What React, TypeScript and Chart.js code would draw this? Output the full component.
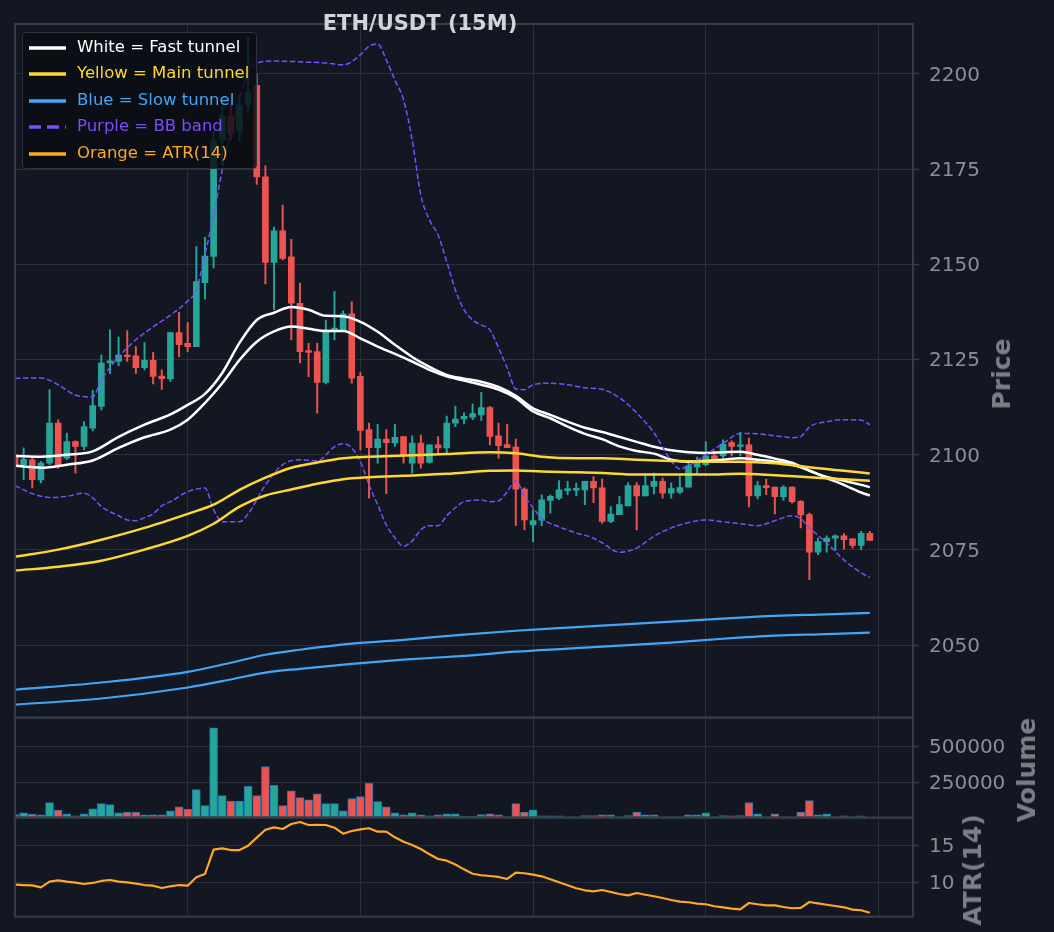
import React, { useEffect, useRef } from "react";
import { Chart, registerables } from "chart.js";

Chart.register(...registerables);

// ---- candles (15M) ----
const opens = [
  2100.0, 2097.4, 2098.7, 2093.4, 2097.8, 2108.3, 2099.1, 2103.5, 2102.2, 2107.0,
  2112.7, 2124.1, 2124.5, 2126.2, 2126.0, 2122.9, 2124.8, 2120.7, 2119.9, 2132.1,
  2129.3, 2128.4, 2145.2, 2152.1, 2182.7, 2188.8, 2184.9, 2191.9, 2197.0, 2173.0,
  2150.5, 2158.8, 2152.0, 2139.8, 2127.4, 2127.1, 2119.0, 2132.4, 2132.8, 2137.0,
  2120.6, 2106.6, 2101.9, 2104.1, 2103.1, 2104.8, 2097.8, 2103.1, 2098.0, 2102.6,
  2101.8, 2108.3, 2109.4, 2109.9, 2110.5, 2112.4, 2105.0, 2102.7, 2102.0, 2091.0,
  2081.6, 2082.8, 2088.0, 2088.6, 2090.6, 2090.7, 2090.8, 2093.0, 2091.3, 2082.5,
  2084.3, 2086.6, 2091.9, 2089.2, 2091.7, 2093.0, 2089.9, 2090.2, 2091.5, 2096.8,
  2097.4, 2099.7, 2099.7, 2103.2, 2102.2, 2102.6, 2089.2, 2091.9, 2091.5, 2089.0,
  2091.5, 2087.8, 2084.3, 2074.4, 2077.2, 2078.1, 2078.7, 2077.9, 2076.2, 2079.4,
];
const highs = [
  2101.0, 2101.8, 2099.3, 2098.3, 2117.1, 2109.2, 2105.7, 2103.7, 2108.7, 2116.9,
  2126.2, 2132.8, 2130.9, 2132.6, 2128.4, 2129.5, 2126.9, 2122.3, 2132.1, 2137.4,
  2134.7, 2154.7, 2157.1, 2185.0, 2193.0, 2192.4, 2194.5, 2209.8, 2200.0, 2175.9,
  2159.8, 2165.6, 2156.6, 2145.1, 2129.3, 2129.3, 2135.4, 2142.9, 2137.8, 2140.2,
  2121.6, 2108.3, 2108.0, 2106.6, 2108.0, 2104.8, 2105.0, 2105.2, 2102.6, 2104.8,
  2110.2, 2112.7, 2111.0, 2113.4, 2116.4, 2112.7, 2108.3, 2108.0, 2104.1, 2091.3,
  2085.6, 2089.5, 2089.5, 2093.2, 2093.0, 2092.6, 2093.0, 2094.3, 2093.6, 2086.4,
  2089.1, 2092.7, 2092.7, 2095.0, 2095.2, 2093.9, 2092.6, 2094.3, 2098.0, 2099.4,
  2103.5, 2100.8, 2103.9, 2103.7, 2105.9, 2104.4, 2093.0, 2093.6, 2091.5, 2091.9,
  2091.6, 2088.0, 2084.7, 2078.1, 2078.7, 2079.0, 2079.3, 2077.9, 2079.9, 2079.9,
];
const lows = [
  2096.0, 2093.5, 2091.3, 2092.6, 2097.4, 2096.5, 2098.7, 2095.2, 2101.3, 2106.3,
  2111.8, 2121.3, 2123.4, 2124.5, 2121.4, 2122.3, 2118.6, 2117.2, 2119.2, 2125.8,
  2127.1, 2128.4, 2140.9, 2149.1, 2176.0, 2182.7, 2182.2, 2189.7, 2171.0, 2144.9,
  2138.1, 2151.2, 2130.2, 2124.1, 2120.5, 2110.9, 2118.6, 2130.2, 2132.4, 2118.8,
  2101.3, 2088.6, 2097.8, 2089.8, 2102.2, 2097.8, 2095.2, 2096.5, 2097.8, 2100.4,
  2100.4, 2107.4, 2108.1, 2109.2, 2109.0, 2102.6, 2099.1, 2101.9, 2081.4, 2080.3,
  2077.2, 2081.4, 2084.7, 2088.2, 2089.5, 2089.2, 2086.9, 2087.4, 2082.0, 2082.2,
  2084.3, 2086.6, 2080.3, 2089.2, 2089.7, 2088.6, 2088.6, 2089.8, 2091.5, 2094.8,
  2097.1, 2098.4, 2099.1, 2099.7, 2099.7, 2086.3, 2088.4, 2089.5, 2084.5, 2088.0,
  2087.3, 2080.8, 2067.2, 2073.8, 2074.4, 2074.9, 2075.2, 2075.5, 2075.1, 2077.5,
];
const closes = [
  2097.2, 2098.8, 2093.5, 2097.8, 2108.3, 2097.3, 2103.5, 2102.2, 2107.4, 2112.9,
  2124.1, 2124.7, 2126.2, 2125.8, 2122.9, 2124.8, 2120.6, 2120.0, 2132.1, 2128.9,
  2128.4, 2145.5, 2152.2, 2182.7, 2189.0, 2184.4, 2191.9, 2195.4, 2173.0, 2150.5,
  2158.8, 2151.6, 2139.8, 2127.1, 2126.9, 2119.0, 2132.8, 2133.3, 2137.0, 2120.1,
  2106.4, 2101.9, 2104.1, 2103.2, 2104.6, 2099.7, 2103.1, 2097.8, 2102.6, 2101.8,
  2108.3, 2109.4, 2110.1, 2110.8, 2112.4, 2104.8, 2102.4, 2101.9, 2091.0, 2082.9,
  2082.7, 2088.2, 2089.1, 2090.8, 2091.1, 2091.2, 2093.0, 2091.3, 2082.5, 2084.4,
  2086.9, 2091.9, 2089.2, 2091.9, 2093.0, 2089.9, 2091.1, 2091.4, 2097.1, 2097.8,
  2099.7, 2098.9, 2102.8, 2102.2, 2102.6, 2089.2, 2091.9, 2091.4, 2089.0, 2091.5,
  2087.7, 2084.2, 2074.4, 2077.2, 2078.1, 2078.7, 2077.7, 2076.2, 2079.4, 2077.5,
];
const volumes = [
  22800, 34600, 25000, 20400, 106000, 53600, 27600, 13300, 27600, 63100,
  98700, 91600, 34600, 39300, 39300, 20400, 20400, 20400, 48800, 77200,
  60600, 198600, 84400, 633000, 156000, 117500, 117500, 220000, 156000, 360000,
  227000, 84600, 189000, 141500, 125000, 167600, 98700, 98700, 48800, 134400,
  148500, 241000, 113000, 77200, 34600, 20400, 34600, 20400, 13300, 20400,
  27600, 27600, 10700, 10700, 22800, 27600, 20400, 8000, 98700, 39300,
  56100, 13300, 13300, 13300, 6000, 6000, 15000, 15000, 20400, 20400,
  6000, 15000, 39300, 20400, 20400, 6000, 6000, 6000, 20400, 20400,
  34600, 6000, 15000, 13300, 15000, 106000, 27600, 6000, 27600, 6000,
  6000, 39300, 120000, 20400, 27600, 6000, 13300, 6000, 13300, 3000,
];
const atr14 = [
  9.68, 9.63, 9.59, 9.32, 10.08, 10.27, 10.08, 9.95, 9.77, 9.91,
  10.18, 10.31, 10.08, 10.0, 9.81, 9.63, 9.54, 9.23, 9.46, 9.63,
  9.54, 10.68, 11.12, 14.41, 14.59, 14.36, 14.36, 14.95, 16.03, 17.11,
  17.43, 17.2, 17.88, 18.15, 17.74, 17.78, 17.74, 17.38, 16.57, 16.93,
  17.16, 17.3, 16.84, 16.84, 16.08, 15.49, 15.04, 14.5, 13.78, 13.15,
  12.92, 12.4, 11.75, 11.16, 10.95, 10.85, 10.72, 10.45, 11.3, 11.22,
  11.03, 10.81, 10.41, 10.0, 9.59, 9.19, 8.92, 8.78, 8.96, 8.69,
  8.42, 8.24, 8.55, 8.32, 8.11, 7.88, 7.61, 7.38, 7.3, 7.11,
  7.03, 6.76, 6.62, 6.43, 6.35, 7.2, 7.03, 6.89, 6.89, 6.66,
  6.49, 6.53, 7.34, 7.16, 6.97, 6.8, 6.62, 6.3, 6.22, 5.89,
];

// ---- tunnels and bands, [candle index, price] ----
const fastUpper: [number, number][] = [
  [0, 2099.7], [3, 2099.5], [6, 2100.0], [9, 2100.9], [12, 2104.7], [15, 2107.9], [18, 2110.6],
  [20, 2113.1], [22, 2116.0], [24, 2121.5], [26, 2129.4], [28, 2135.4], [30, 2137.3], [32, 2138.8],
  [34, 2138.1], [36, 2136.5], [38, 2136.4], [40, 2134.9], [42, 2132.3], [44, 2128.9], [46, 2125.7],
  [48, 2123.1], [50, 2121.0], [52, 2120.0], [54, 2119.2], [56, 2117.8], [58, 2115.5], [60, 2112.2],
  [62, 2110.5], [64, 2108.7], [66, 2107.1], [68, 2106.0], [70, 2104.7], [72, 2103.4], [74, 2102.1],
  [76, 2101.2], [78, 2100.7], [80, 2100.5], [82, 2100.7], [84, 2100.8], [86, 2100.0], [88, 2099.0],
  [90, 2097.9], [92, 2095.8], [94, 2094.2], [96, 2093.2], [98, 2092.1], [99, 2091.5],
];
const fastLower: [number, number][] = [
  [0, 2097.1], [3, 2096.6], [6, 2097.4], [9, 2098.5], [12, 2101.8], [15, 2104.6], [18, 2106.6],
  [20, 2109.2], [22, 2113.6], [24, 2118.8], [26, 2124.9], [28, 2129.7], [30, 2132.4], [32, 2133.7],
  [34, 2133.1], [36, 2132.5], [38, 2132.5], [40, 2130.6], [42, 2128.4], [44, 2126.5], [46, 2124.5],
  [48, 2122.3], [50, 2120.6], [52, 2119.5], [54, 2118.4], [56, 2117.1], [58, 2114.9], [60, 2111.4],
  [62, 2109.6], [64, 2107.4], [66, 2105.5], [68, 2104.1], [70, 2102.2], [72, 2101.0], [74, 2100.3],
  [76, 2098.7], [78, 2098.2], [80, 2098.4], [82, 2098.7], [84, 2099.1], [86, 2098.7], [88, 2098.2],
  [90, 2097.4], [92, 2095.9], [94, 2093.9], [96, 2092.1], [98, 2090.1], [99, 2089.3],
];
const mainUpper: [number, number][] = [
  [0, 2073.2], [5, 2075.1], [10, 2077.7], [15, 2080.8], [20, 2084.5], [23, 2086.9], [26, 2090.8],
  [29, 2094.0], [32, 2096.6], [35, 2098.0], [38, 2099.1], [41, 2099.5], [45, 2099.8], [50, 2100.2],
  [55, 2100.7], [58, 2100.4], [61, 2099.5], [65, 2099.1], [68, 2099.1], [72, 2098.7], [76, 2098.4],
  [80, 2098.2], [84, 2098.2], [88, 2097.8], [92, 2096.7], [96, 2095.8], [99, 2095.1],
];
const mainLower: [number, number][] = [
  [0, 2069.6], [5, 2070.6], [10, 2072.2], [15, 2075.1], [20, 2078.7], [23, 2081.9], [26, 2086.4],
  [29, 2089.3], [32, 2090.9], [35, 2092.4], [38, 2093.6], [41, 2094.1], [45, 2094.5], [50, 2095.0],
  [55, 2095.8], [58, 2095.9], [61, 2095.6], [65, 2095.4], [68, 2095.2], [72, 2094.8], [76, 2094.8],
  [80, 2094.8], [84, 2095.0], [88, 2094.6], [92, 2094.1], [96, 2093.6], [99, 2093.2],
];
const slowUpper: [number, number][] = [
  [0, 2038.3], [10, 2040.2], [20, 2043.0], [25, 2045.4], [29, 2047.5], [33, 2048.8], [39, 2050.4],
  [45, 2051.4], [52, 2052.8], [58, 2053.8], [64, 2054.6], [70, 2055.4], [76, 2056.2], [82, 2057.0],
  [88, 2057.7], [94, 2058.1], [99, 2058.5],
];
const slowLower: [number, number][] = [
  [0, 2034.4], [10, 2036.0], [20, 2038.9], [25, 2041.0], [29, 2042.8], [33, 2043.8], [39, 2045.1],
  [45, 2046.2], [52, 2047.2], [58, 2048.3], [64, 2049.1], [70, 2049.9], [76, 2050.7], [82, 2051.7],
  [88, 2052.5], [94, 2052.9], [99, 2053.3],
];
const bbUpper: [number, number][] = [
  [0, 2120.1], [3, 2120.2], [5, 2118.4], [7, 2115.7], [9, 2115.2], [10, 2119.7], [12, 2125.7],
  [14, 2130.2], [16, 2133.6], [18, 2136.7], [20, 2140.4], [21, 2143.3], [22, 2152.5], [23, 2163.0],
  [24, 2174.8], [25, 2185.3], [26, 2193.2], [27, 2200.5], [28, 2202.9], [30, 2203.4], [34, 2203.1],
  [36, 2202.9], [38, 2202.4], [40, 2205.0], [41, 2207.3], [42, 2207.9], [43, 2203.7], [44, 2198.4],
  [45, 2193.2], [46, 2182.7], [47, 2168.2], [48, 2161.7], [49, 2157.7], [50, 2150.7], [51, 2143.3],
  [52, 2138.1], [53, 2135.4], [54, 2134.1], [55, 2132.8], [56, 2128.1], [57, 2122.8], [58, 2117.3],
  [59, 2117.1], [60, 2118.4], [62, 2118.8], [64, 2118.4], [66, 2117.6], [68, 2117.2], [70, 2115.0],
  [72, 2111.0], [74, 2105.8], [76, 2098.4], [77, 2096.3], [78, 2097.1], [80, 2100.0], [82, 2103.0],
  [84, 2105.6], [86, 2105.5], [88, 2105.0], [90, 2104.5], [91, 2104.8], [92, 2107.3], [94, 2108.7],
  [96, 2109.2], [98, 2109.1], [99, 2107.9],
];
const bbLower: [number, number][] = [
  [0, 2091.9], [2, 2089.8], [4, 2088.8], [6, 2089.1], [8, 2089.9], [9, 2088.7], [10, 2086.4],
  [12, 2084.0], [13, 2082.9], [14, 2082.7], [15, 2083.5], [16, 2084.5], [17, 2086.6], [18, 2087.7],
  [20, 2090.3], [22, 2091.3], [23, 2085.6], [24, 2082.4], [26, 2082.4], [27, 2084.5], [29, 2092.1],
  [31, 2097.4], [33, 2098.7], [35, 2098.4], [37, 2102.1], [38, 2102.9], [39, 2101.8], [40, 2098.2],
  [41, 2092.1], [42, 2086.9], [43, 2081.6], [44, 2078.2], [45, 2076.0], [46, 2077.4], [47, 2080.3],
  [48, 2081.4], [49, 2081.4], [50, 2084.0], [51, 2086.1], [52, 2087.7], [54, 2088.1], [55, 2087.7],
  [56, 2087.9], [57, 2090.3], [58, 2093.2], [59, 2089.2], [60, 2086.1], [61, 2083.3], [63, 2081.1],
  [65, 2079.5], [67, 2078.1], [68, 2076.9], [70, 2074.4], [72, 2075.5], [74, 2078.6], [76, 2080.8],
  [78, 2082.2], [80, 2082.9], [82, 2082.4], [84, 2081.9], [86, 2081.4], [88, 2082.7], [90, 2084.0],
  [91, 2083.2], [92, 2080.8], [94, 2076.9], [96, 2072.4], [98, 2069.0], [99, 2067.8],
];

// ---- axes ----
const xGrid = [0, 20, 40, 60, 80, 100];
const priceTicks = [2050, 2075, 2100, 2125, 2150, 2175, 2200];
const volumeTicks = [250000, 500000];
const atrTicks = [10, 15];

const BG = "#131722";
const GRID = "#2a2e39";
const FRAME = "#363a45";
const TICK = "#8a8e98";
const LABEL = "#7b7e88";
const UP = "#26a69a";
const DOWN = "#ef5350";
const FONT = "'DejaVu Sans', sans-serif";
const W = 1054;
const H = 932;
const RIGHT = 913;

const legendItems = [
  { label: "White = Fast tunnel", color: "#ffffff", dashed: false },
  { label: "Yellow = Main tunnel", color: "#fdd835", dashed: false },
  { label: "Blue = Slow tunnel", color: "#42a5f5", dashed: false },
  { label: "Purple = BB band", color: "#7c4dff", dashed: true },
  { label: "Orange = ATR(14)", color: "#ffa726", dashed: false },
];

const framePlugin = {
  id: "frame",
  afterDraw(chart: any) {
    const { ctx, chartArea: a } = chart;
    ctx.save();
    ctx.strokeStyle = FRAME;
    ctx.lineWidth = 2.2;
    ctx.strokeRect(a.left, a.top, a.right - a.left, a.bottom - a.top);
    ctx.restore();
  },
};

const isUp = (i: number) => closes[i] >= opens[i];
const candleColors = opens.map((_, i) => (isUp(i) ? UP : DOWN));
const pts = (arr: [number, number][]) => arr.map(([x, y]) => ({ x, y }));

const line = (arr: [number, number][], color: string, width: number, dash?: number[]) => ({
  type: "line" as const,
  data: pts(arr),
  borderColor: color,
  borderWidth: width,
  borderDash: dash || [],
  pointRadius: 0,
  fill: false,
  cubicInterpolationMode: "monotone" as const,
  borderJoinStyle: "round" as const,
  order: 1,
});

const makeOptions = (top: number, bottom: number, yMin: number, yMax: number, ticks: number[]) => ({
  responsive: false,
  animation: false as const,
  events: [],
  layout: { padding: { left: 15, right: 0, top, bottom: H - bottom } },
  plugins: { legend: { display: false }, tooltip: { enabled: false } },
  scales: {
    x: {
      type: "linear" as const,
      min: 0,
      max: 104,
      offset: false,
      afterBuildTicks: (s: any) => {
        s.ticks = xGrid.map((v) => ({ value: v }));
      },
      afterFit: (s: any) => {
        s.height = 0;
        s.paddingLeft = 0;
        s.paddingRight = 0;
      },
      ticks: { display: false },
      grid: { color: GRID, lineWidth: 1, drawTicks: false, offset: false },
      border: { display: false },
    },
    y: {
      type: "linear" as const,
      position: "right" as const,
      min: yMin,
      max: yMax,
      afterBuildTicks: (s: any) => {
        s.ticks = ticks.map((v) => ({ value: v }));
      },
      afterFit: (s: any) => {
        s.width = W - RIGHT;
        s.paddingTop = 0;
        s.paddingBottom = 0;
      },
      grid: { color: GRID, lineWidth: 1, drawTicks: true, tickLength: 6, tickColor: FRAME, tickWidth: 1.5 },
      border: { display: false },
      ticks: {
        color: TICK,
        padding: 10,
        labelOffset: 1.5,
        font: { family: FONT, size: 20 },
        callback: (v: any) => String(v),
      },
    },
  },
});

const App = () => {
  const priceRef = useRef<HTMLCanvasElement>(null);
  const volRef = useRef<HTMLCanvasElement>(null);
  const atrRef = useRef<HTMLCanvasElement>(null);

  useEffect(() => {
    const idx = opens.map((_, i) => i);
    const charts: Chart[] = [];

    if (priceRef.current) {
      charts.push(
        new Chart(priceRef.current, {
          type: "bar",
          data: {
            datasets: [
              {
                type: "bar",
                data: idx.map((i) => ({ x: i, y: [lows[i], highs[i]] })) as any,
                backgroundColor: candleColors,
                barThickness: 1.3,
                grouped: false,
                order: 20,
              },
              {
                type: "bar",
                data: idx.map((i) => ({
                  x: i,
                  y: [Math.min(opens[i], closes[i]), Math.max(opens[i], closes[i])],
                })) as any,
                backgroundColor: candleColors,
                barThickness: 6,
                minBarLength: 1.5,
                grouped: false,
                order: 19,
              },
              line(slowUpper, "#42a5f5", 2.2),
              line(slowLower, "#42a5f5", 2.2),
              line(mainUpper, "#fdd835", 2.5),
              line(mainLower, "#fdd835", 2.5),
              line(bbUpper, "#7c4dff", 1.5, [5.5, 2.5]),
              line(bbLower, "#7c4dff", 1.5, [5.5, 2.5]),
              line(fastUpper, "#ffffff", 2.5),
              line(fastLower, "#ffffff", 2.5),
            ] as any,
          },
          options: makeOptions(24, 717.7, 2030.96, 2213.13, priceTicks) as any,
          plugins: [framePlugin],
        })
      );
    }

    if (volRef.current) {
      charts.push(
        new Chart(volRef.current, {
          type: "bar",
          data: {
            datasets: [
              {
                data: idx.map((i) => ({ x: i, y: volumes[i] })) as any,
                backgroundColor: candleColors,
                borderColor: "#1f77b4",
                borderWidth: 1,
                borderSkipped: false,
                barThickness: 8,
                grouped: false,
              },
            ] as any,
          },
          options: makeOptions(717.7, 817.7, 0, 703600, volumeTicks) as any,
          plugins: [framePlugin],
        })
      );
    }

    if (atrRef.current) {
      charts.push(
        new Chart(atrRef.current, {
          type: "line",
          data: {
            datasets: [
              {
                data: idx.map((i) => ({ x: i, y: atr14[i] })),
                borderColor: "#ffa726",
                borderWidth: 2.2,
                pointRadius: 0,
                tension: 0,
                borderJoinStyle: "round",
              },
            ] as any,
          },
          options: makeOptions(817.7, 916.7, 5.35, 18.73, atrTicks) as any,
          plugins: [framePlugin],
        })
      );
    }

    return () => {
      charts.forEach((c) => c.destroy());
    };
  }, []);

  const canvasStyle: React.CSSProperties = { position: "absolute", left: 0, top: 0 };
  const axisTitle = (cx: number, cy: number): React.CSSProperties => ({
    position: "absolute",
    left: cx,
    top: cy,
    transform: "translate(-50%, -50%) rotate(-90deg)",
    whiteSpace: "nowrap",
    color: LABEL,
    fontFamily: FONT,
    fontWeight: "bold",
    fontSize: 25,
    lineHeight: "26px",
  });

  return (
    <div
      style={{
        position: "absolute",
        left: 0,
        top: 0,
        width: W,
        height: H,
        background: BG,
        overflow: "hidden",
        fontFamily: FONT,
      }}
    >
      <canvas ref={priceRef} width={W} height={H} style={canvasStyle}></canvas>
      <canvas ref={volRef} width={W} height={H} style={canvasStyle}></canvas>
      <canvas ref={atrRef} width={W} height={H} style={canvasStyle}></canvas>

      <div
        style={{
          position: "absolute",
          left: 220,
          top: 12,
          width: 400,
          textAlign: "center",
          color: "#d1d4dc",
          fontWeight: "bold",
          fontSize: 21,
          lineHeight: "23px",
        }}
      >
        ETH/USDT (15M)
      </div>

      <div
        style={{
          position: "absolute",
          left: 22,
          top: 32,
          width: 235,
          height: 137,
          background: "rgba(10, 12, 17, 0.82)",
          border: "1px solid #2f333d",
          borderRadius: 4,
          boxSizing: "border-box",
        }}
      >
        {legendItems.map((item, k) => (
          <div
            key={item.label}
            style={{ position: "absolute", left: 0, top: 2 + k * 26.4, height: 26, width: 232 }}
          >
            <svg
              width={40}
              height={8}
              style={{ position: "absolute", left: 5, top: 9 }}
            >
              <line
                x1={1}
                y1={4}
                x2={38}
                y2={4}
                stroke={item.color}
                strokeWidth={3.5}
                strokeDasharray={item.dashed ? "12 6" : undefined}
              />
            </svg>
            <span
              style={{
                position: "absolute",
                left: 54,
                top: 2,
                color: item.color,
                fontSize: 16.5,
                lineHeight: "20px",
                whiteSpace: "nowrap",
              }}
            >
              {item.label}
            </span>
          </div>
        ))}
      </div>

      <div style={axisTitle(1002, 374)}>Price</div>
      <div style={axisTitle(1027, 770)}>Volume</div>
      <div style={axisTitle(973, 870)}>ATR(14)</div>
    </div>
  );
};

export default App;
